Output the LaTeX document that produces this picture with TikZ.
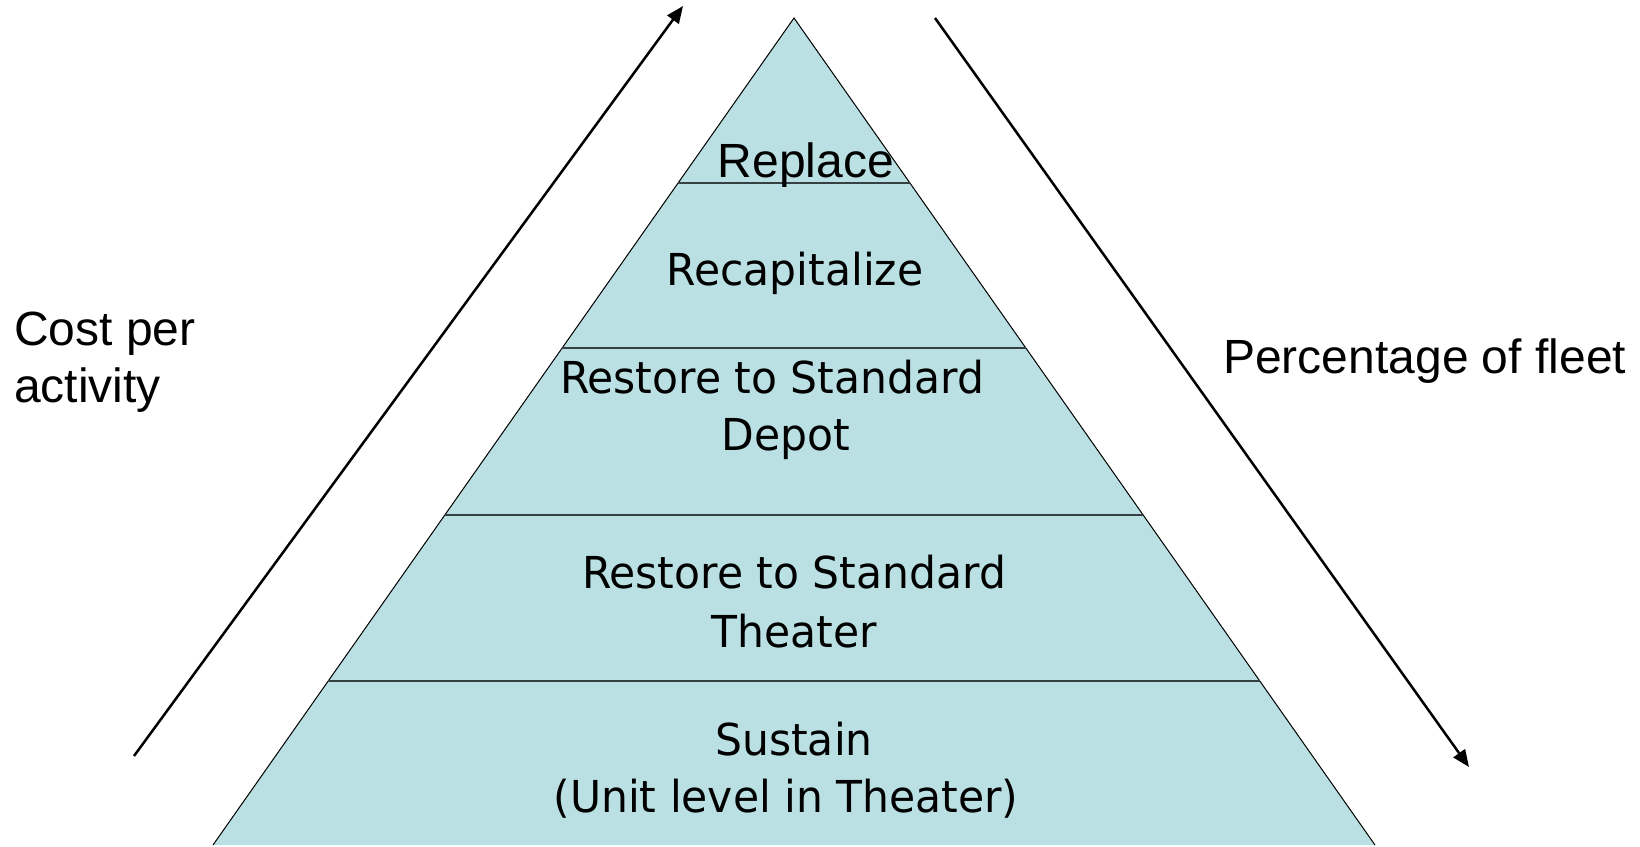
\documentclass[tikz,border=0pt]{standalone}
\usepackage{fontspec}
\setmainfont{Liberation Sans}
\newfontfamily\bandfont[FakeStretch=0.965]{DejaVu Sans}
\usetikzlibrary{calc,arrows.meta}
\definecolor{pyrfill}{RGB}{186,224,227}
\definecolor{bandline}{RGB}{55,65,67}

\begin{document}
\begin{tikzpicture}[x=1pt, y=-1pt,
    lbl/.style={font=\fontsize{48}{57}\selectfont, anchor=base west, inner sep=0},
    bandtext/.style={font=\bandfont\fontsize{44}{57}\selectfont, anchor=base, inner sep=0},
    divider/.style={draw=bandline, line width=2pt},
    slope/.style={line width=2.5pt, -{Triangle[length=17pt,width=14pt]}}
]
    \useasboundingbox (0,0) rectangle (1640,846);

    % pyramid
    \coordinate (apex) at (794,18); \coordinate (bl) at (213,845); \coordinate (br) at (1375,845);
    \fill[pyrfill] (apex) -- (br) -- (bl) -- cycle;
    \draw[line width=1pt] (bl) -- (apex) -- (br);
    \draw[divider] ($(apex)!0.1995!(bl)$) -- ($(apex)!0.1995!(br)$);
    \draw[divider] ($(apex)!0.399!(bl)$) -- ($(apex)!0.399!(br)$);
    \draw[divider] ($(apex)!0.601!(bl)$) -- ($(apex)!0.601!(br)$);
    \draw[divider] ($(apex)!0.8017!(bl)$) -- ($(apex)!0.8017!(br)$);

    % band labels
    \node[lbl, anchor=base] (replace) at (806,177) {Replace};
    \node[bandtext] (recap) at (795,285) {Recapitalize};
    \node[bandtext] (depot1) at (772,393) {Restore to Standard};
    \node[bandtext] (depot2) at (786,450) {Depot};
    \node[bandtext] (theater1) at (794,588) {Restore to Standard};
    \node[bandtext] (theater2) at (794,647) {Theater};
    \node[bandtext] (sustain1) at (794,755) {Sustain};
    \node[bandtext] (sustain2) at (786,812) {(Unit level in Theater)};

    % side arrows
    \coordinate (costlow) at (134,756); \coordinate (costhigh) at (683,6);
    \draw[slope] (costlow) -- (costhigh);
    \coordinate (fleethigh) at (935,18); \coordinate (fleetlow) at (1469,767);
    \draw[slope] (fleethigh) -- (fleetlow);

    \node[lbl] (cost1) at (14,345) {Cost per};
    \node[lbl] (cost2) at (14,402) {activity};
    \node[lbl] (fleet) at (1223,373) {Percentage of fleet};
\end{tikzpicture}
\end{document}
